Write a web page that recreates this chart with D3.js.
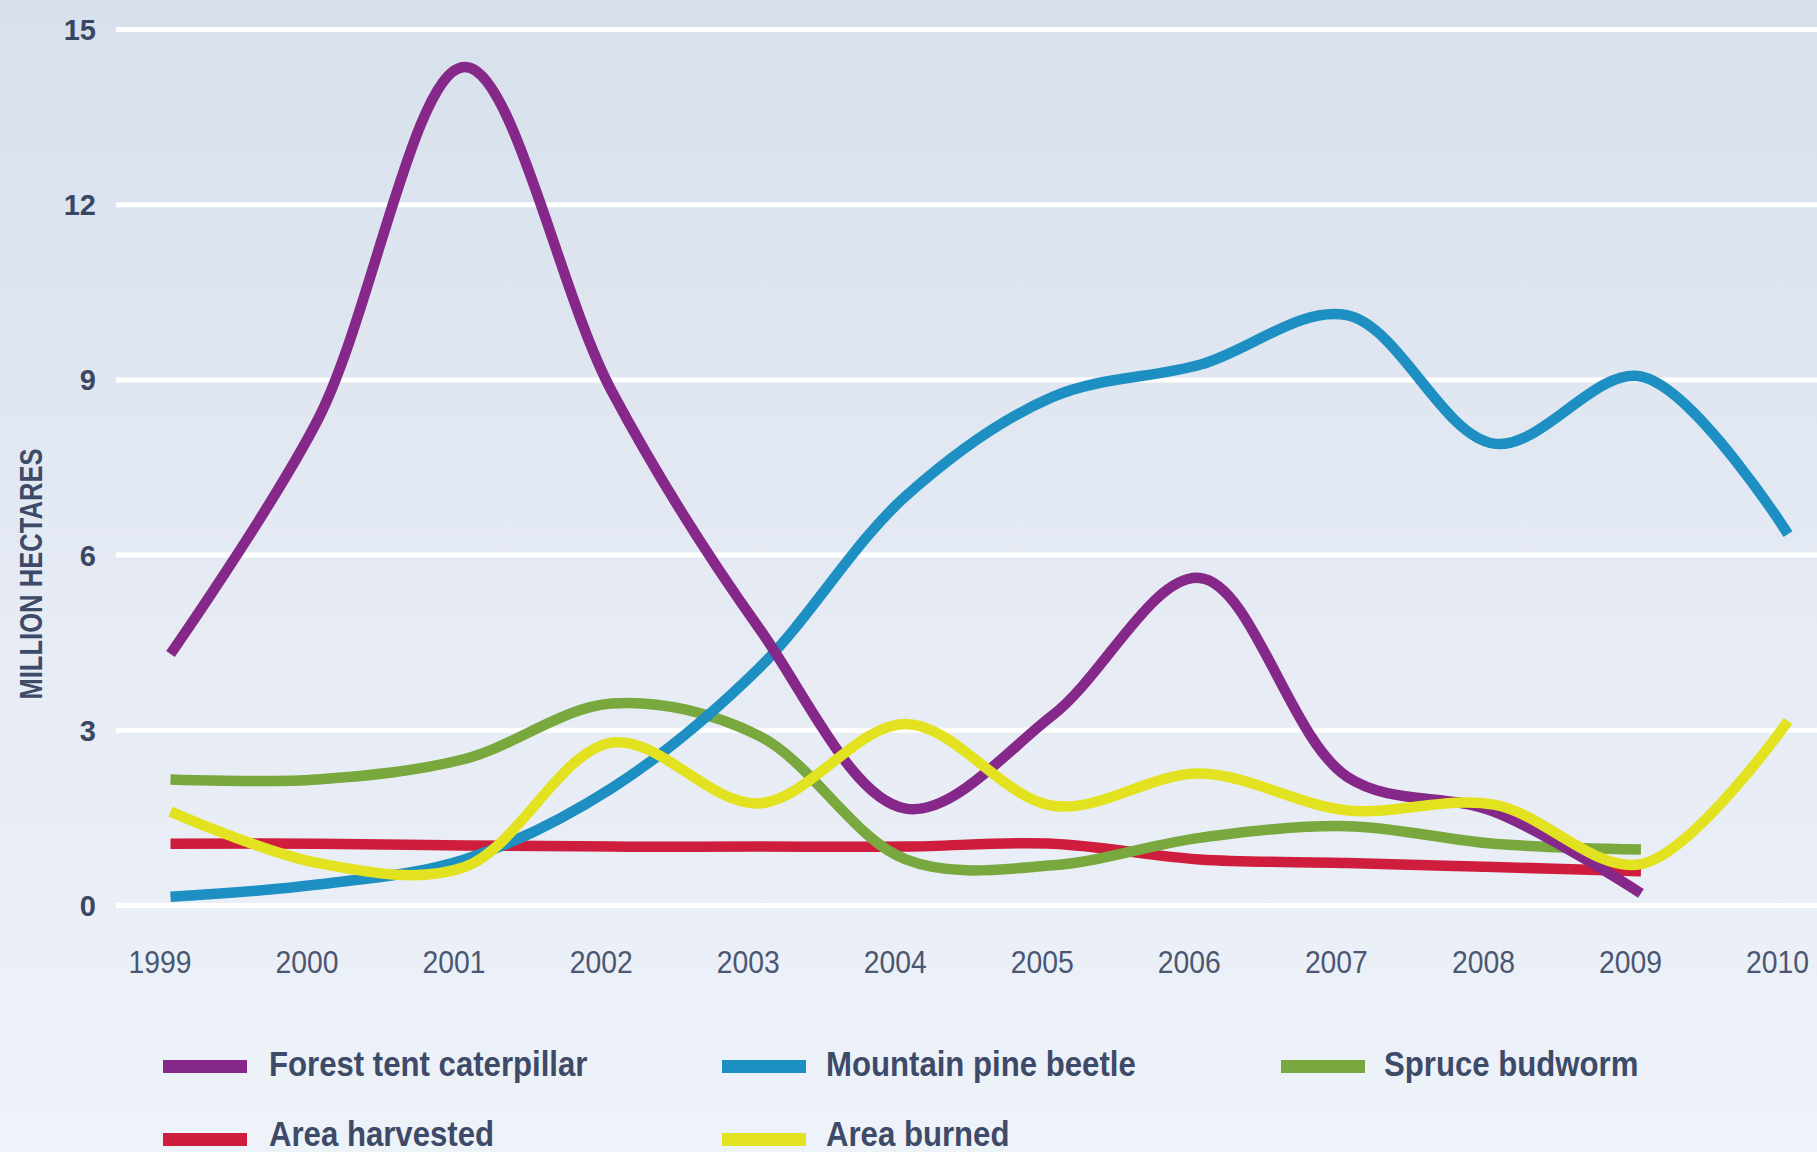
<!DOCTYPE html>
<html>
<head>
<meta charset="utf-8">
<script src="https://cdn.jsdelivr.net/npm/d3@7/dist/d3.min.js"></script>
<style>
  html, body { margin: 0; padding: 0; background: #e6ebf4; }
  svg { display: block; }
</style>
</head>
<body>
<svg id="chart" width="1817" height="1152"></svg>
<script>
// ---- Data (million hectares) ----
const years = [1999, 2000, 2001, 2002, 2003, 2004, 2005, 2006, 2007, 2008, 2009, 2010];
const yTicks = [0, 3, 6, 9, 12, 15];
const forestTentCaterpillar = [4.3, 8.3, 14.35, 8.8, 4.75, 1.65, 3.25, 5.6, 2.2, 1.6, 0.2, null];
const mountainPineBeetle    = [0.14, 0.35, 0.78, 2.0, 4.05, 7.0, 8.7, 9.25, 10.1, 7.9, 9.05, 6.35];
const spruceBudworm         = [2.15, 2.15, 2.5, 3.45, 2.9, 0.78, 0.68, 1.15, 1.35, 1.05, 0.95, null];
const areaHarvested         = [1.05, 1.05, 1.02, 1.0, 1.0, 1.0, 1.05, 0.78, 0.72, 0.65, 0.58, null];
const areaBurned            = [1.6, 0.72, 0.65, 2.78, 1.74, 3.1, 1.7, 2.25, 1.62, 1.72, 0.7, 3.15];
const seriesNames  = ["Forest tent caterpillar", "Mountain pine beetle", "Spruce budworm", "Area harvested", "Area burned"];
const seriesColors = ["#86288a", "#1d8fc2", "#79a83e", "#cf1d3d", "#e2e220"];
const seriesValues = [forestTentCaterpillar, mountainPineBeetle, spruceBudworm, areaHarvested, areaBurned];
const yTitle = "MILLION HECTARES";

// ---- Layout ----
const W = 1817, H = 1152;
const svg = d3.select("#chart");
const sans = "'Liberation Sans', Arial, Helvetica, sans-serif";

const defs = svg.append("defs");
const grad = defs.append("linearGradient").attr("id", "bg").attr("x1", 0).attr("y1", 0).attr("x2", 0).attr("y2", 1);
grad.append("stop").attr("offset", "0%").attr("stop-color", "#d7e0ec");
grad.append("stop").attr("offset", "55%").attr("stop-color", "#e6ebf4");
grad.append("stop").attr("offset", "100%").attr("stop-color", "#eef2f9");
svg.append("rect").attr("width", W).attr("height", H).attr("fill", "url(#bg)");

const x = d3.scaleLinear().domain([1999, 2010]).range([170.5, 1788]);
const y = d3.scaleLinear().domain([0, 15]).range([905, 29]);

// gridlines + y labels via axis
const yAxis = d3.axisLeft(y).tickValues(yTicks).tickSize(-(W - 116)).tickPadding(20).tickFormat(d3.format("d"));
const gy = svg.append("g").attr("transform", "translate(116,0)").call(yAxis);
gy.select(".domain").remove();
gy.selectAll(".tick line").attr("stroke", "#ffffff").attr("stroke-width", 5);
gy.selectAll(".tick text")
  .attr("fill", "#3a4764")
  .attr("font-family", sans)
  .attr("font-weight", "bold")
  .attr("font-size", 29)
  .attr("x", -20)
  .attr("dy", "0.36em");

// x labels via axis (condensed by horizontal scaling)
const xAxis = d3.axisBottom(x).tickValues(years).tickSize(0).tickPadding(0).tickFormat(d3.format("d"));
const gx = svg.append("g").attr("transform", "translate(-11,973)").call(xAxis);
gx.select(".domain").remove();
gx.selectAll(".tick text")
  .attr("fill", "#4a5672")
  .attr("font-family", sans)
  .attr("font-size", 32)
  .attr("y", 0)
  .attr("dy", 0)
  .attr("transform", "scale(0.885,1)");

// y title
svg.append("text")
  .attr("transform", "translate(31,574) rotate(-90) scale(0.8,1)")
  .attr("text-anchor", "middle")
  .attr("dominant-baseline", "central")
  .attr("fill", "#3d4a68")
  .attr("font-family", sans)
  .attr("font-weight", "bold")
  .attr("font-size", 32)
  .text(yTitle);

// lines
const line = d3.line()
  .defined(d => d.v !== null)
  .x(d => x(d.year))
  .y(d => y(d.v))
  .curve(d3.curveCatmullRom.alpha(0.5));

const drawOrder = [3, 2, 1, 0, 4];
svg.append("g").selectAll("path")
  .data(drawOrder)
  .join("path")
  .attr("d", i => line(years.map((yr, k) => ({ year: yr, v: seriesValues[i][k] }))))
  .attr("fill", "none")
  .attr("stroke", i => seriesColors[i])
  .attr("stroke-width", 10.5)
  .attr("stroke-linejoin", "round")
  .attr("stroke-linecap", "butt");

// legend
const legendPos = [
  { sx: 163, tx: 269, sy: 1060, base: 1076 },
  { sx: 722, tx: 826, sy: 1060, base: 1076 },
  { sx: 1281, tx: 1384, sy: 1060, base: 1076 },
  { sx: 163, tx: 269, sy: 1133, base: 1146 },
  { sx: 722, tx: 826, sy: 1133, base: 1146 }
];
const lg = svg.append("g").selectAll("g").data(seriesNames.map((n, i) => i)).join("g");
lg.append("rect")
  .attr("x", i => legendPos[i].sx)
  .attr("y", i => legendPos[i].sy)
  .attr("width", 84)
  .attr("height", 13)
  .attr("fill", i => seriesColors[i]);
lg.append("text")
  .attr("transform", i => `translate(${legendPos[i].tx},${legendPos[i].base}) scale(0.89,1)`)
  .attr("fill", "#3d4a68")
  .attr("font-family", sans)
  .attr("font-weight", "bold")
  .attr("font-size", 35)
  .text(i => seriesNames[i]);
</script>
</body>
</html>
